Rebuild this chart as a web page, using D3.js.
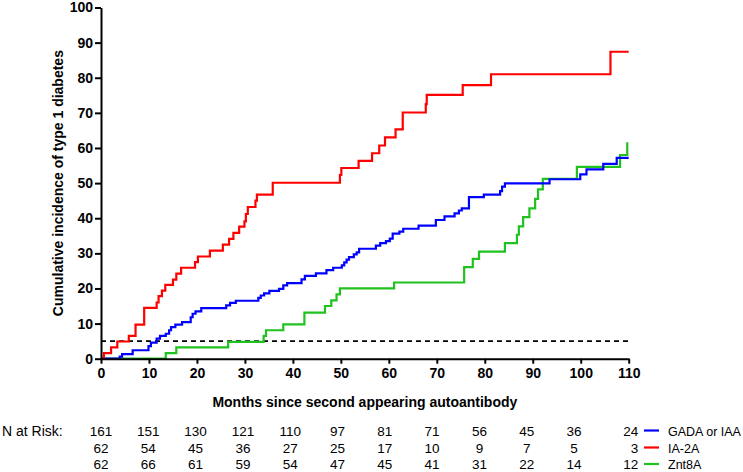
<!DOCTYPE html>
<html>
<head>
<meta charset="utf-8">
<script src="https://cdn.jsdelivr.net/npm/d3@7/dist/d3.min.js"></script>
<style>
  html, body { margin: 0; padding: 0; background: #fff; }
  svg { display: block; font-family: Arial, "Liberation Sans", Helvetica, sans-serif; }
</style>
</head>
<body>
<svg id="chart" width="743" height="472"></svg>
<script>
// ---- data ----
const seriesNames = ["GADA or IAA", "IA-2A", "Znt8A"];
const seriesColors = ["#0000ff", "#ff0000", "#1fc21f"];

const gadaMonths = [0, 3.9, 4.4, 6.6, 9.9, 10.4, 11.6, 12.3, 13.5, 14.2, 14.6, 15.5, 16.9, 18.7, 19.1, 19.7, 20.9, 26.1, 26.9, 28.1, 32.8, 33.3, 34.0, 35.1, 37.1, 38.0, 38.8, 41.8, 42.5, 44.8, 47.0, 48.4, 50.2, 50.7, 51.2, 51.7, 52.7, 53.3, 53.8, 57.3, 58.2, 59.4, 60.2, 60.8, 62.2, 63.0, 66.2, 69.8, 71.6, 73.7, 74.6, 75.2, 76.7, 79.8, 83.2, 83.6, 84.2, 93.5, 99.9, 101.2, 104.7, 107.5, 110];
const gadaValues = [0, 0.6, 1.3, 2.4, 3.6, 4.6, 5.7, 6.5, 7.1, 8.1, 9.0, 9.7, 10.4, 11.8, 12.8, 13.5, 14.4, 15.2, 15.9, 16.5, 17.3, 18.0, 18.6, 19.3, 19.9, 20.9, 21.5, 22.6, 23.6, 24.3, 25.2, 25.9, 26.6, 27.4, 28.2, 28.9, 29.7, 30.3, 31.3, 32.2, 32.9, 33.5, 34.2, 35.6, 36.2, 37.0, 37.9, 39.5, 40.5, 41.4, 42.2, 42.8, 46.0, 46.7, 47.7, 49.0, 49.9, 51.1, 52.5, 53.9, 55.5, 57.2, 57.2];

const ia2aMonths = [0, 0.6, 2.1, 3.4, 5.8, 7.2, 9.0, 11.6, 12.0, 12.7, 13.4, 15.0, 15.7, 16.7, 19.6, 20.2, 22.7, 25.4, 26.7, 27.6, 28.8, 29.9, 30.2, 30.6, 32.2, 32.5, 35.8, 49.8, 50.1, 53.7, 56.5, 58.0, 59.2, 61.4, 62.9, 67.7, 67.9, 75.4, 81.3, 106.2, 110];
const ia2aValues = [0, 1.6, 3.2, 4.9, 6.5, 9.7, 14.5, 16.0, 17.8, 19.4, 21.0, 22.5, 24.2, 25.9, 27.5, 29.1, 30.8, 32.5, 34.1, 35.8, 37.6, 39.1, 41.2, 43.2, 45.0, 46.7, 50.1, 52.3, 54.3, 56.3, 58.5, 60.7, 63.0, 65.3, 70.1, 72.5, 75.1, 77.9, 81.0, 87.4, 87.4];

const znt8aMonths = [0, 13.5, 15.7, 26.5, 33.9, 34.4, 38.0, 42.4, 46.7, 48.0, 49.1, 49.8, 61.1, 75.7, 77.5, 78.8, 84.2, 86.7, 87.1, 88.0, 89.3, 90.5, 91.1, 92.1, 99.2, 108.2, 109.7];
const znt8aValues = [0, 1.6, 3.2, 4.8, 6.5, 8.1, 9.8, 13.1, 15.0, 16.6, 18.3, 20.0, 21.7, 26.1, 28.4, 30.5, 32.9, 35.3, 37.7, 40.3, 42.8, 45.5, 48.2, 51.2, 54.6, 58.0, 61.6];

const referenceLevel = 5;
const xTicks = [0, 10, 20, 30, 40, 50, 60, 70, 80, 90, 100, 110];
const yTicks = [0, 10, 20, 30, 40, 50, 60, 70, 80, 90, 100];

const riskMonths = [0, 10, 20, 30, 40, 50, 60, 70, 80, 90, 100, 110];
const riskGada = [161, 151, 130, 121, 110, 97, 81, 71, 56, 45, 36, 24];
const riskIa2a = [62, 54, 45, 36, 27, 25, 17, 10, 9, 7, 5, 3];
const riskZnt8a = [62, 66, 61, 59, 54, 47, 45, 41, 31, 22, 14, 12];

const xTitle = "Months since second appearing autoantibody";
const yTitle = "Cumulative incidence of type 1 diabetes";
const riskTitle = "N at Risk:";

// ---- drawing ----
const svg = d3.select("#chart");
const x = d3.scaleLinear().domain([0, 110]).range([101, 628.7]);
const y = d3.scaleLinear().domain([0, 100]).range([358.7, 7.5]);
const tableX = d3.scaleLinear().domain([0, 100]).range([101, 574]);

const curves = [
  { months: gadaMonths, values: gadaValues },
  { months: ia2aMonths, values: ia2aValues },
  { months: znt8aMonths, values: znt8aValues }
];

// reference line
svg.append("line")
  .attr("x1", x(0)).attr("x2", x(110))
  .attr("y1", y(referenceLevel)).attr("y2", y(referenceLevel))
  .attr("stroke", "#000").attr("stroke-width", 1.8)
  .attr("stroke-dasharray", "5,4");

const line = d3.line()
  .x(d => x(d[0])).y(d => y(d[1]))
  .curve(d3.curveStepAfter);

[2, 0, 1].forEach(i => {
  const c = curves[i];
  const pts = c.months.map((m, j) => [m, c.values[j]]);
  svg.append("path")
    .attr("d", line(pts))
    .attr("fill", "none")
    .attr("stroke", seriesColors[i])
    .attr("stroke-width", 2.2)
    .attr("stroke-linejoin", "miter");
});

// axes
const xAxis = svg.append("g")
  .attr("transform", `translate(0,${y(0)})`)
  .call(d3.axisBottom(x).tickValues(xTicks).tickSize(5).tickSizeOuter(0).tickPadding(4));
const yAxis = svg.append("g")
  .attr("transform", `translate(${x(0)},0)`)
  .call(d3.axisLeft(y).tickValues(yTicks).tickSize(6).tickSizeOuter(0).tickPadding(2));

[xAxis, yAxis].forEach(g => {
  g.select(".domain").attr("stroke", "#000").attr("stroke-width", 2);
  g.selectAll(".tick line").attr("stroke", "#000").attr("stroke-width", 2);
  g.selectAll(".tick text")
    .attr("fill", "#000")
    .style("font-size", "14px")
    .style("font-weight", "bold")
    .style("font-family", "Arial, 'Liberation Sans', sans-serif");
});

// axis titles
svg.append("text")
  .attr("x", x(55)).attr("y", 406.5)
  .attr("text-anchor", "middle")
  .style("font-size", "14px").style("font-weight", "bold")
  .text(xTitle);

svg.append("text")
  .attr("transform", `translate(63,${y(50)}) rotate(-90)`)
  .attr("text-anchor", "middle")
  .style("font-size", "14px").style("font-weight", "bold")
  .text(yTitle);

// risk table
svg.append("text")
  .attr("x", 2).attr("y", 435.5)
  .style("font-size", "14px")
  .text(riskTitle);

const riskRows = [riskGada, riskIa2a, riskZnt8a];
const rowBaselines = [435.5, 452.5, 469];
riskRows.forEach((row, r) => {
  svg.append("g").selectAll("text")
    .data(row)
    .join("text")
    .attr("x", (d, i) => riskMonths[i] === 110 ? tableX(110) + 17 : tableX(riskMonths[i]))
    .attr("y", rowBaselines[r])
    .attr("text-anchor", (d, i) => riskMonths[i] === 110 ? "end" : "middle")
    .style("font-size", "13.5px")
    .text(d => d);
});

// legend
seriesNames.forEach((name, i) => {
  const ly = rowBaselines[i] - 5;
  svg.append("line")
    .attr("x1", 644).attr("x2", 659)
    .attr("y1", ly).attr("y2", ly)
    .attr("stroke", seriesColors[i]).attr("stroke-width", 2.2);
  svg.append("text")
    .attr("x", 668).attr("y", rowBaselines[i])
    .style("font-size", "12.5px")
    .text(name);
});
</script>
</body>
</html>
